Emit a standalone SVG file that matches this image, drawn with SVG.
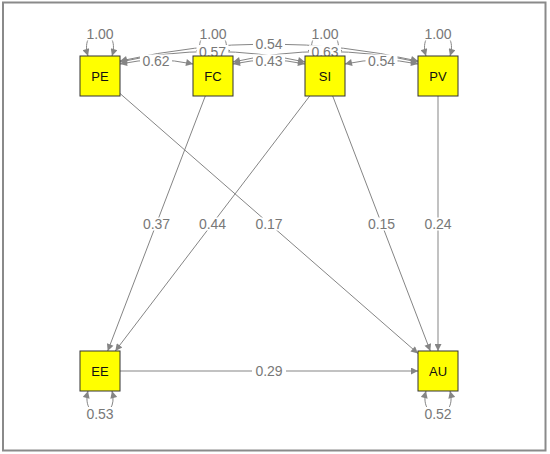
<svg xmlns="http://www.w3.org/2000/svg" width="550" height="454" viewBox="0 0 550 454">
<style>
.node rect{fill:#ffff00;stroke:#333;stroke-width:1}
.node text{font-family:"Liberation Sans",Arial,sans-serif;font-size:13px;fill:#111;text-anchor:middle}
.e{fill:none;stroke:#858585;stroke-width:1}
.lbl rect{fill:#fff}
.lbl text{font-family:"Liberation Sans",Arial,sans-serif;font-size:14px;fill:#787878;text-anchor:middle}
</style>
<defs>
<marker id="ah" viewBox="0 0 10 10" refX="10" refY="5" markerWidth="9" markerHeight="7" markerUnits="userSpaceOnUse" orient="auto-start-reverse">
<path d="M0,0 L10,5 L0,10 z" fill="#858585"/>
</marker>
</defs>
<rect x="3" y="2.5" width="542.5" height="448" fill="#fff" stroke="#8a8a8a" stroke-width="2"/>
<g id="connectors">
<path class="e" d="M88,56 C78,24 122,24 112,56" marker-start="url(#ah)" marker-end="url(#ah)"/>
<path class="e" d="M201,56 C191,24 235,24 225,56" marker-start="url(#ah)" marker-end="url(#ah)"/>
<path class="e" d="M313,56 C303,24 347,24 337,56" marker-start="url(#ah)" marker-end="url(#ah)"/>
<path class="e" d="M426,56 C416,24 460,24 450,56" marker-start="url(#ah)" marker-end="url(#ah)"/>
<path class="e" d="M88,391 C80,422 120,422 112,391" marker-start="url(#ah)" marker-end="url(#ah)"/>
<path class="e" d="M426,391 C418,422 458,422 450,391" marker-start="url(#ah)" marker-end="url(#ah)"/>
<path class="e" d="M120,64 Q156,56 193,64" marker-start="url(#ah)" marker-end="url(#ah)"/>
<path class="e" d="M120,62 Q212,41 305,62" marker-start="url(#ah)" marker-end="url(#ah)"/>
<path class="e" d="M120,61 Q269,27 418,61" marker-start="url(#ah)" marker-end="url(#ah)"/>
<path class="e" d="M233,64 Q269,56 305,64" marker-start="url(#ah)" marker-end="url(#ah)"/>
<path class="e" d="M233,62 Q325,41 418,62" marker-start="url(#ah)" marker-end="url(#ah)"/>
<path class="e" d="M345,64 Q381,56 418,64" marker-start="url(#ah)" marker-end="url(#ah)"/>
<line class="e" x1="120" y1="93.5" x2="418" y2="353.5" marker-end="url(#ah)"/>
<line class="e" x1="205.3" y1="96" x2="107.7" y2="351" marker-end="url(#ah)"/>
<line class="e" x1="309.7" y1="96" x2="115.3" y2="351" marker-end="url(#ah)"/>
<line class="e" x1="332.7" y1="96" x2="430.3" y2="351" marker-end="url(#ah)"/>
<line class="e" x1="438" y1="96" x2="438" y2="351" marker-end="url(#ah)"/>
<line class="e" x1="120" y1="371" x2="418" y2="371" marker-end="url(#ah)"/>
</g>
<g id="labels" class="lbl">
<rect x="84" y="27.5" width="32" height="13"/><text x="100" y="39">1.00</text>
<rect x="197" y="27.5" width="32" height="13"/><text x="213" y="39">1.00</text>
<rect x="309" y="27.5" width="32" height="13"/><text x="325" y="39">1.00</text>
<rect x="422" y="27.5" width="32" height="13"/><text x="438" y="39">1.00</text>
<rect x="140" y="54.5" width="32" height="13"/><text x="156" y="66">0.62</text>
<rect x="253" y="54.5" width="32" height="13"/><text x="269" y="66">0.43</text>
<rect x="365.5" y="54.5" width="32" height="13"/><text x="381.5" y="66">0.54</text>
<rect x="196.5" y="45" width="32" height="13"/><text x="212.5" y="56.5">0.57</text>
<rect x="309" y="45.2" width="32" height="13"/><text x="325" y="56.7">0.63</text>
<rect x="253" y="37.5" width="32" height="13"/><text x="269" y="49">0.54</text>
<rect x="140.5" y="217.5" width="32" height="13"/><text x="156.5" y="229">0.37</text>
<rect x="196.5" y="217.5" width="32" height="13"/><text x="212.5" y="229">0.44</text>
<rect x="253" y="217.5" width="32" height="13"/><text x="269" y="229">0.17</text>
<rect x="365.5" y="217.5" width="32" height="13"/><text x="381.5" y="229">0.15</text>
<rect x="422" y="217.5" width="32" height="13"/><text x="438" y="229">0.24</text>
<rect x="252" y="364.5" width="34" height="13"/><text x="269" y="376">0.29</text>
<rect x="84" y="407" width="32" height="13"/><text x="100" y="418.5">0.53</text>
<rect x="422" y="407" width="32" height="13"/><text x="438" y="418.5">0.52</text>
</g>
<g id="PE" class="node"><rect x="80" y="56" width="40" height="40"/><text x="100" y="80.7">PE</text></g>
<g id="FC" class="node"><rect x="193" y="56" width="40" height="40"/><text x="213" y="80.7">FC</text></g>
<g id="SI" class="node"><rect x="305" y="56" width="40" height="40"/><text x="325" y="80.7">SI</text></g>
<g id="PV" class="node"><rect x="418" y="56" width="40" height="40"/><text x="438" y="80.7">PV</text></g>
<g id="EE" class="node"><rect x="80" y="351" width="40" height="40"/><text x="100" y="375.7">EE</text></g>
<g id="AU" class="node"><rect x="418" y="351" width="40" height="40"/><text x="438" y="375.7">AU</text></g>
</svg>
